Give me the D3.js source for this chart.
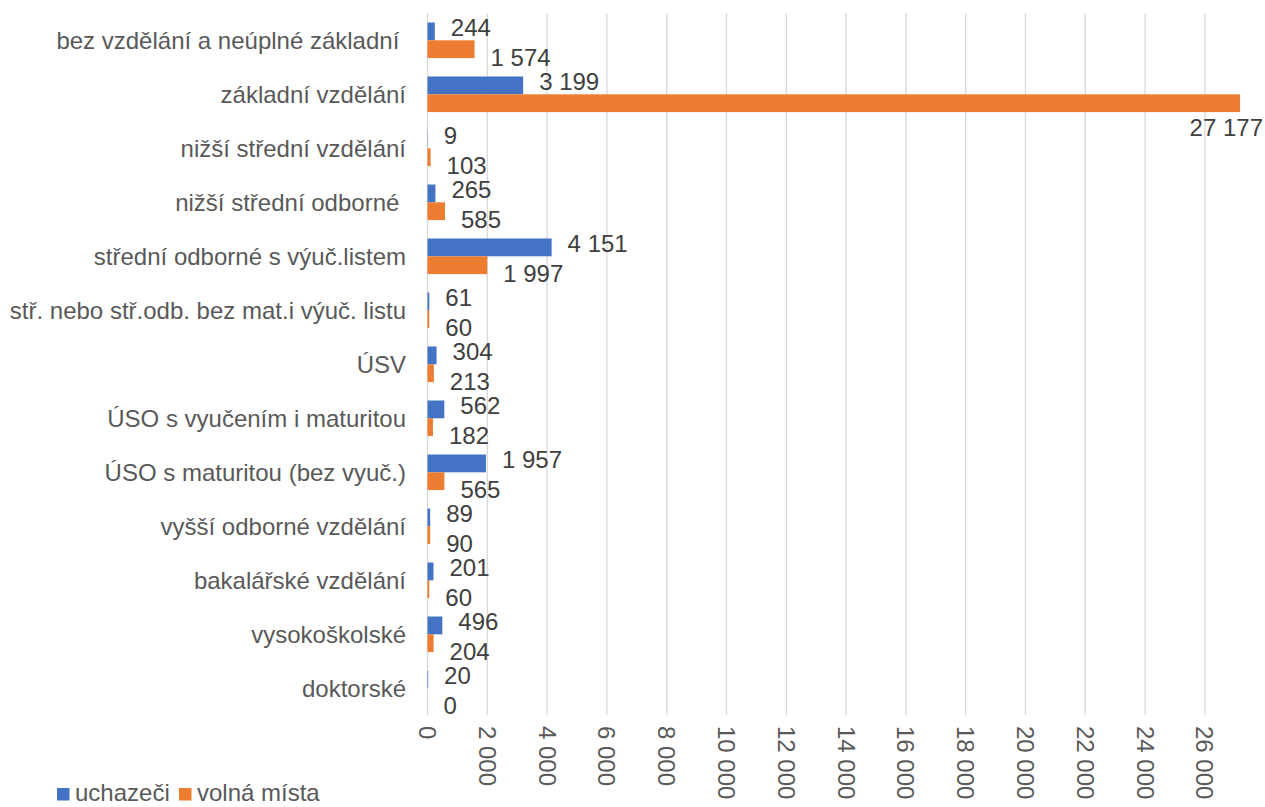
<!DOCTYPE html>
<html>
<head>
<meta charset="utf-8">
<script src="https://cdn.jsdelivr.net/npm/d3@7"></script>
<style>
  html, body { margin: 0; padding: 0; background: #fff; }
  svg text { font-family: "Liberation Sans", Arial, sans-serif; white-space: pre; }
</style>
</head>
<body>
<svg id="chart" width="1265" height="807"></svg>
<script>
const categories = [
  "bez vzdělání a neúplné základní ",
  "základní vzdělání",
  "nižší střední vzdělání",
  "nižší střední odborné ",
  "střední odborné s výuč.listem",
  "stř. nebo stř.odb. bez mat.i výuč. listu",
  "ÚSV",
  "ÚSO s vyučením i maturitou",
  "ÚSO s maturitou (bez vyuč.)",
  "vyšší odborné vzdělání",
  "bakalářské vzdělání",
  "vysokoškolské",
  "doktorské"
];
const seriesNames = ["uchazeči", "volná místa"];
const uchazeci = [244, 3199, 9, 265, 4151, 61, 304, 562, 1957, 89, 201, 496, 20];
const volnaMista = [1574, 27177, 103, 585, 1997, 60, 213, 182, 565, 90, 60, 204, 0];
const tickValues = [0, 2000, 4000, 6000, 8000, 10000, 12000, 14000, 16000, 18000, 20000, 22000, 24000, 26000];
const colors = ["#4472C4", "#ED7D31"];

const W = 1265, H = 807;
const svg = d3.select("#chart");
const fs = 24;
const loc = d3.formatLocale({decimal: ",", thousands: " ", grouping: [3], currency: ["", " Kč"]});
const fmt = loc.format(",d");

const x = d3.scaleLinear().domain([0, 28000]).range([427.5, 427.5 + 28 * 29.9]);
const y0 = d3.scaleBand().domain(categories).range([13.3, 715.3]).padding(0);
const y1 = d3.scaleBand().domain(seriesNames).range([0, y0.bandwidth()]).paddingInner(0).paddingOuter(0.517);

const plotTop = 13.3, plotBottom = 715.3;

// gridlines
svg.append("g").selectAll("line").data(tickValues).join("line")
  .attr("x1", d => x(d)).attr("x2", d => x(d))
  .attr("y1", plotTop).attr("y2", plotBottom)
  .attr("stroke", "#d9d9d9").attr("stroke-width", 1.3);

// tick labels, rotated
svg.append("g").selectAll("text").data(tickValues).join("text")
  .attr("transform", d => `translate(${x(d)},726) rotate(90)`)
  .attr("dy", "0.35em")
  .attr("text-anchor", "start")
  .attr("fill", "#595959")
  .attr("font-size", fs)
  .text(d => fmt(d));

// category labels
svg.append("g").selectAll("text").data(categories).join("text")
  .attr("x", 406)
  .attr("y", d => y0(d) + y0.bandwidth() / 2)
  .attr("dy", "0.35em")
  .attr("text-anchor", "end")
  .attr("fill", "#595959")
  .attr("font-size", fs)
  .text(d => d);

const rows = categories.map((c, i) => ({cat: c, vals: [uchazeci[i], volnaMista[i]]}));

const groups = svg.append("g").selectAll("g").data(rows).join("g")
  .attr("transform", d => `translate(0,${y0(d.cat)})`);

groups.selectAll("rect").data(d => d.vals.map((v, j) => ({v, s: seriesNames[j], j}))).join("rect")
  .attr("x", x(0))
  .attr("y", d => y1(d.s))
  .attr("width", d => x(d.v) - x(0))
  .attr("height", y1.bandwidth())
  .attr("fill", d => colors[d.j]);

// data labels
const labelOffsets = [-4, 8];
groups.selectAll("text").data(d => d.vals.map((v, j) => ({v, s: seriesNames[j], j}))).join("text")
  .attr("fill", "#404040")
  .attr("font-size", fs)
  .attr("dy", "0.35em")
  .text(d => fmt(d.v))
  .each(function(d) {
    const t = d3.select(this);
    const w = this.getComputedTextLength();
    const cx = x(d.v) + 16;
    const cy = y1(d.s) + y1.bandwidth() / 2;
    if (cx + w > W - 2) {
      t.attr("x", W - 2).attr("text-anchor", "end").attr("y", y1(d.s) + y1.bandwidth() + 16);
    } else {
      t.attr("x", cx).attr("text-anchor", "start").attr("y", cy + labelOffsets[d.j]);
    }
  });

// legend
const legend = svg.append("g");
const legendItems = [{name: seriesNames[0], c: colors[0], x: 57}, {name: seriesNames[1], c: colors[1], x: 179}];
legend.selectAll("rect").data(legendItems).join("rect")
  .attr("x", d => d.x).attr("y", 788).attr("width", 12.5).attr("height", 12.5)
  .attr("fill", d => d.c);
legend.selectAll("text").data(legendItems).join("text")
  .attr("x", d => d.x + 18).attr("y", 801)
  .attr("fill", "#595959").attr("font-size", fs)
  .text(d => d.name);
</script>
</body>
</html>
